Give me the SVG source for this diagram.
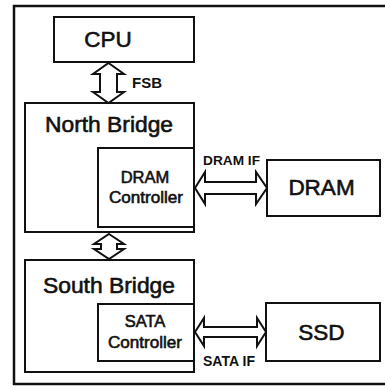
<svg xmlns="http://www.w3.org/2000/svg" width="385" height="388" viewBox="0 0 385 388">
<style>
.box{fill:#fff;stroke:#111;stroke-width:2}
.arr{fill:#fff;stroke:#111;stroke-width:2;stroke-linejoin:miter}
.t{font-family:"Liberation Sans",Arial,sans-serif;fill:#111;stroke:#111;stroke-width:0.6;text-anchor:middle}
.big{font-size:22.5px}
.mid{font-size:16.5px}
.lbl{font-family:"Liberation Sans",Arial,sans-serif;font-weight:bold;fill:#111;text-anchor:start}
</style>
<rect width="385" height="388" fill="#fff"/>
<path d="M 390 6 H 14 V 384 H 390" fill="none" stroke="#111" stroke-width="2.5"/>
<g id="cpu">
<rect class="box" x="54" y="17" width="140" height="45"/>
<text class="t big" x="108" y="47">CPU</text>
</g>
<g id="north-bridge">
<rect class="box" x="25" y="103" width="169" height="129"/>
<text class="t big" x="109" y="132" textLength="128" lengthAdjust="spacingAndGlyphs">North Bridge</text>
</g>
<g id="dram-controller">
<rect class="box" x="98" y="148" width="96" height="79"/>
<text class="t mid" x="145" y="183">DRAM</text>
<text class="t mid" x="146" y="203" textLength="74" lengthAdjust="spacingAndGlyphs">Controller</text>
</g>
<g id="south-bridge">
<rect class="box" x="25" y="260" width="169" height="112"/>
<text class="t big" x="109" y="293" textLength="132" lengthAdjust="spacingAndGlyphs">South Bridge</text>
</g>
<g id="sata-controller">
<rect class="box" x="98" y="304" width="96" height="57"/>
<text class="t mid" x="145" y="327">SATA</text>
<text class="t mid" x="145" y="348" textLength="74" lengthAdjust="spacingAndGlyphs">Controller</text>
</g>
<g id="dram">
<rect class="box" x="267" y="160" width="113" height="56"/>
<text class="t big" x="321.5" y="195">DRAM</text>
</g>
<g id="ssd">
<rect class="box" x="266" y="303" width="114" height="58"/>
<text class="t big" x="321.5" y="340">SSD</text>
</g>
<g id="connectors">
<polygon class="arr" points="108.5,63 124,74 117,74 117,92 124,92 108.5,103 93,92 100,92 100,74 93,74"/>
<text class="lbl" x="132" y="88" font-size="15" textLength="30" lengthAdjust="spacingAndGlyphs">FSB</text>
<polygon class="arr" points="109,234 124,244 117,244 117,249 124,249 109,259 94,249 101,249 101,244 94,244"/>
<polygon class="arr" points="195,188 205,172 205,182 256,182 256,172 267,188 256,204 256,194 205,194 205,204"/>
<text class="lbl" x="203" y="165" font-size="13" textLength="57" lengthAdjust="spacingAndGlyphs">DRAM IF</text>
<polygon class="arr" points="195,332 204,318 204,327 257,327 257,318 266,332 257,346 257,337 204,337 204,346"/>
<text class="lbl" x="203" y="366" font-size="14" textLength="52" lengthAdjust="spacingAndGlyphs">SATA IF</text>
</g>
</svg>
